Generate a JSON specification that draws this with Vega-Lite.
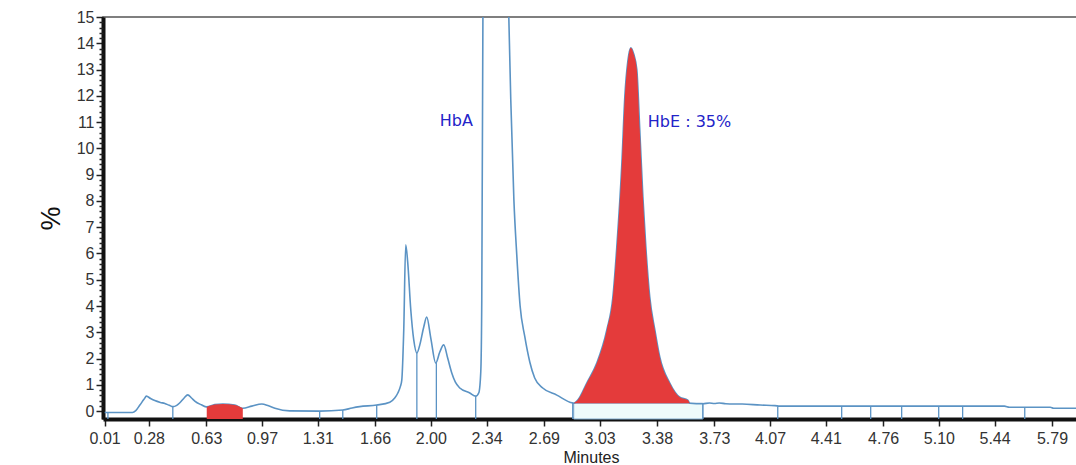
{
  "$schema": "https://vega.github.io/schema/vega-lite/v6.json",
  "width": 976,
  "height": 402,
  "autosize": {"type": "none"},
  "padding": {"left": 103, "top": 17, "right": 0, "bottom": 46},
  "background": "white",
  "config": {
    "view": {"stroke": "#555555", "strokeWidth": 1.5},
    "font": "Liberation Sans"
  },
  "datasets": {
    "trace": [
      {"t":0.01,"v":-0.05},{"t":0.03,"v":-0.05},{"t":0.18,"v":-0.05},{"t":0.2,"v":0.02},{"t":0.225,"v":0.23},{"t":0.25,"v":0.45},{"t":0.265,"v":0.57},{"t":0.29,"v":0.48},{"t":0.316,"v":0.40},{"t":0.35,"v":0.33},{"t":0.377,"v":0.29},{"t":0.405,"v":0.22},{"t":0.426,"v":0.17},{"t":0.45,"v":0.22},{"t":0.469,"v":0.32},{"t":0.495,"v":0.5},{"t":0.517,"v":0.62},{"t":0.54,"v":0.5},{"t":0.56,"v":0.38},{"t":0.6,"v":0.24},{"t":0.633,"v":0.16},{"t":0.682,"v":0.25},{"t":0.731,"v":0.27},{"t":0.804,"v":0.23},{"t":0.853,"v":0.11},{"t":0.908,"v":0.19},{"t":0.969,"v":0.27},{"t":1.01,"v":0.2},{"t":1.049,"v":0.11},{"t":1.139,"v":0.01},{"t":1.322,"v":0.0},{"t":1.463,"v":0.04},{"t":1.52,"v":0.12},{"t":1.566,"v":0.17},{"t":1.67,"v":0.23},{"t":1.75,"v":0.34},{"t":1.78,"v":0.5},{"t":1.799,"v":0.69},{"t":1.815,"v":0.95},{"t":1.823,"v":1.18},{"t":1.835,"v":3.09},{"t":1.847,"v":6.33},{"t":1.859,"v":5.68},{"t":1.878,"v":3.85},{"t":1.896,"v":2.71},{"t":1.915,"v":2.21},{"t":1.933,"v":2.52},{"t":1.957,"v":3.2},{"t":1.975,"v":3.58},{"t":2.0,"v":2.78},{"t":2.03,"v":1.83},{"t":2.055,"v":2.25},{"t":2.079,"v":2.52},{"t":2.103,"v":2.02},{"t":2.128,"v":1.45},{"t":2.15,"v":1.1},{"t":2.177,"v":0.88},{"t":2.238,"v":0.69},{"t":2.274,"v":0.57},{"t":2.293,"v":0.7},{"t":2.305,"v":1.5},{"t":2.311,"v":4.2},{"t":2.318,"v":15.0},{"t":2.322,"v":17},{"t":2.47,"v":17},{"t":2.476,"v":15.0},{"t":2.488,"v":11.85},{"t":2.507,"v":8.04},{"t":2.525,"v":5.9},{"t":2.545,"v":4.0},{"t":2.573,"v":2.85},{"t":2.604,"v":1.87},{"t":2.634,"v":1.26},{"t":2.683,"v":0.88},{"t":2.769,"v":0.61},{"t":2.849,"v":0.34},{"t":2.872,"v":0.30},{"t":2.897,"v":0.42},{"t":2.952,"v":1.07},{"t":3.013,"v":1.83},{"t":3.074,"v":3.09},{"t":3.111,"v":4.34},{"t":3.135,"v":6.25},{"t":3.166,"v":9.45},{"t":3.184,"v":11.97},{"t":3.202,"v":13.3},{"t":3.22,"v":13.83},{"t":3.239,"v":13.57},{"t":3.257,"v":13.0},{"t":3.275,"v":10.71},{"t":3.294,"v":8.16},{"t":3.312,"v":6.25},{"t":3.336,"v":4.34},{"t":3.367,"v":3.09},{"t":3.397,"v":2.06},{"t":3.458,"v":1.07},{"t":3.519,"v":0.53},{"t":3.568,"v":0.42},{"t":3.58,"v":0.30},{"t":3.66,"v":0.28},{"t":3.7,"v":0.31},{"t":3.73,"v":0.29},{"t":3.76,"v":0.31},{"t":3.8,"v":0.28},{"t":3.85,"v":0.27},{"t":3.9,"v":0.27},{"t":4.01,"v":0.23},{"t":4.1,"v":0.21},{"t":4.13,"v":0.19},{"t":5.5,"v":0.19},{"t":5.53,"v":0.15},{"t":5.78,"v":0.15},{"t":5.8,"v":0.11},{"t":5.96,"v":0.11}
    ],
    "hbe": [
      {"t":2.872,"v":0.30},{"t":2.897,"v":0.42},{"t":2.952,"v":1.07},{"t":3.013,"v":1.83},{"t":3.074,"v":3.09},{"t":3.111,"v":4.34},{"t":3.135,"v":6.25},{"t":3.166,"v":9.45},{"t":3.184,"v":11.97},{"t":3.202,"v":13.3},{"t":3.22,"v":13.83},{"t":3.239,"v":13.57},{"t":3.257,"v":13.0},{"t":3.275,"v":10.71},{"t":3.294,"v":8.16},{"t":3.312,"v":6.25},{"t":3.336,"v":4.34},{"t":3.367,"v":3.09},{"t":3.397,"v":2.06},{"t":3.458,"v":1.07},{"t":3.519,"v":0.53},{"t":3.568,"v":0.42},{"t":3.58,"v":0.30}
    ],
    "small": [
      {"t":0.633,"v":0.16},{"t":0.682,"v":0.25},{"t":0.731,"v":0.27},{"t":0.804,"v":0.23},{"t":0.853,"v":0.11}
    ],
    "drops": [
      {"t":0.03,"v":-0.05},{"t":0.426,"v":0.17},{"t":1.322,"v":0.0},{"t":1.463,"v":0.04},{"t":1.67,"v":0.23},{"t":1.915,"v":2.21},{"t":2.034,"v":1.83},{"t":2.274,"v":0.57},{"t":2.866,"v":0.34},{"t":3.66,"v":0.28},{"t":4.117,"v":0.19},{"t":4.507,"v":0.19},{"t":4.684,"v":0.19},{"t":4.873,"v":0.19},{"t":5.099,"v":0.19},{"t":5.245,"v":0.19},{"t":5.624,"v":0.15}
    ],
    "box": [
      {"t":2.872,"t1":3.66,"v":-0.3,"v1":0.3}
    ],
    "labels": [
      {"t":2.055,"v":11.06,"text":"HbA"},
      {"t":3.324,"v":10.99,"text":"HbE : 35%"}
    ]
  },
  "resolve": {"scale": {"y": "independent"}},
  "layer": [
    {
      "encoding": {
        "x": {"field": "t", "type": "quantitative", "scale": {"domain": [0, 5.955], "nice": false, "zero": false},
          "axis": {
            "values": [0.01,0.145,0.28,0.455,0.63,0.8,0.97,1.14,1.31,1.485,1.66,1.83,2.0,2.17,2.34,2.515,2.69,2.86,3.03,3.205,3.38,3.555,3.73,3.9,4.07,4.24,4.41,4.585,4.76,4.93,5.1,5.27,5.44,5.615,5.79],
            "format": ".2f",
            "labelExpr": "indexof([0.01,0.28,0.63,0.97,1.31,1.66,2.0,2.34,2.69,3.03,3.38,3.73,4.07,4.41,4.76,5.1,5.44,5.79], datum.value) >= 0 ? datum.label : ''",
            "tickSize": {"condition": {"test": "indexof([0.01,0.28,0.63,0.97,1.31,1.66,2.0,2.34,2.69,3.03,3.38,3.73,4.07,4.41,4.76,5.1,5.44,5.79], datum.value) >= 0", "value": 7}, "value": 4},
            "tickColor": "#222222", "tickWidth": 1.5,
            "domainColor": "#111111", "domainWidth": 4,
            "labelFont": "Liberation Sans", "labelFontSize": 16, "labelColor": "#333333", "labelPadding": 4,
            "labelFlush": false, "labelOverlap": false,
            "grid": false,
            "title": "Minutes", "titleFont": "Liberation Sans", "titleFontSize": 16, "titleFontWeight": "normal", "titleColor": "#222222", "titlePadding": 3
          }},
        "y": {"field": "v", "type": "quantitative", "scale": {"domain": [-0.3, 15], "nice": false, "zero": false},
          "axis": {
            "values": [0,1,2,3,4,5,6,7,8,9,10,11,12,13,14,15],
            "tickCount": 16,
            "format": "d",
            "tickSize": 7,
            "tickColor": "#222222", "tickWidth": 1.5,
            "domainColor": "#111111", "domainWidth": 4,
            "labelFont": "Liberation Sans", "labelFontSize": 16, "labelColor": "#333333", "labelPadding": 2,
            "labelFlush": false, "labelOverlap": false, "labelBound": false,
            "grid": false,
            "title": "%", "titleFont": "Liberation Sans", "titleFontSize": 27, "titleFontWeight": "normal", "titleColor": "#111111", "titlePadding": 11
          }}
      },
      "layer": [
        {
          "data": {"name": "box"},
          "mark": {"type": "rect", "fill": "#eefbfb", "stroke": "#7fa9cc", "strokeWidth": 1},
          "encoding": {"x2": {"field": "t1"}, "y2": {"field": "v1"}}
        },
        {
          "data": {"name": "drops"},
          "mark": {"type": "rule", "color": "#5b93c4", "strokeWidth": 1.3},
          "encoding": {"y2": {"datum": -0.3}}
        },
        {
          "data": {"name": "trace"},
          "mark": {"type": "line", "color": "#5b93c4", "strokeWidth": 1.6, "clip": true, "interpolate": "monotone"}
        },
        {
          "data": {"name": "hbe"},
          "mark": {"type": "area", "color": "#e43b3b", "interpolate": "monotone", "opacity": 1},
          "encoding": {"y2": {"datum": 0.3}}
        },
        {
          "data": {"name": "small"},
          "mark": {"type": "area", "color": "#e43b3b", "interpolate": "monotone", "opacity": 1},
          "encoding": {"y2": {"datum": -0.3}}
        },
        {
          "data": {"name": "labels"},
          "mark": {"type": "text", "align": "left", "baseline": "middle", "font": "DejaVu Sans", "fontSize": 16, "color": "#2323c8"},
          "encoding": {"text": {"field": "text"}}
        }
      ]
    },
    {
      "data": {"name": "labels"},
      "mark": {"type": "point", "opacity": 0},
      "encoding": {
        "x": {"field": "t", "type": "quantitative"},
        "y": {"field": "v", "type": "quantitative", "scale": {"domain": [-0.3, 15], "nice": false, "zero": false},
          "axis": {
            "orient": "left",
            "values": [0.2,0.4,0.6,0.8,1.2,1.4,1.6,1.8,2.2,2.4,2.6,2.8,3.2,3.4,3.6,3.8,4.2,4.4,4.6,4.8,5.2,5.4,5.6,5.8,6.2,6.4,6.6,6.8,7.2,7.4,7.6,7.8,8.2,8.4,8.6,8.8,9.2,9.4,9.6,9.8,10.2,10.4,10.6,10.8,11.2,11.4,11.6,11.8,12.2,12.4,12.6,12.8,13.2,13.4,13.6,13.8,14.2,14.4,14.6,14.8],
            "labels": false, "domain": false, "title": null, "grid": false,
            "tickSize": 4, "tickColor": "#222222", "tickWidth": 1.5
          }}
      }
    }
  ]
}
